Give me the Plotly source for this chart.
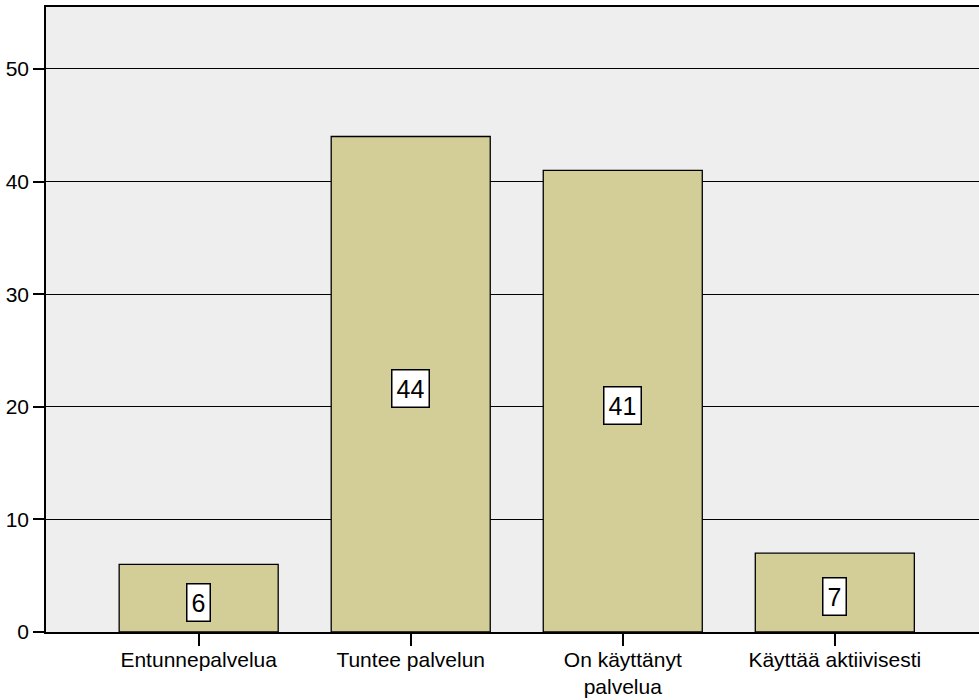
import plotly.graph_objects as go

categories = ["Entunnepalvelua", "Tuntee palvelun", "On käyttänyt<br>palvelua", "Käyttää aktiivisesti"]
values = [6, 44, 41, 7]
y_ticks = [0, 10, 20, 30, 40, 50]

fig = go.Figure()
fig.add_trace(go.Bar(
    x=list(range(len(categories))), y=values, width=0.75,
    marker=dict(color="#D3CE98", line=dict(color="#000000", width=1.3)),
    hoverinfo="skip",
))

for i, v in enumerate(values):
    fig.add_annotation(
        x=i, y=v / 2, text=str(v), showarrow=False, yshift=-4,
        font=dict(family="Liberation Sans, Arial", size=25, color="black"),
        bgcolor="white", bordercolor="black", borderwidth=1.5, borderpad=4,
    )

fig.update_layout(
    width=979, height=700,
    margin=dict(l=46, r=0, t=7, b=68),
    paper_bgcolor="white", plot_bgcolor="#EEEEEE",
    showlegend=False,
    font=dict(family="Liberation Sans, Arial", size=22, color="black"),
    bargap=0.25,
)
fig.update_xaxes(
    range=[-0.72, 3.68], automargin=False,
    tickmode="array", tickvals=list(range(len(categories))), ticktext=categories,
    ticks="outside", ticklen=12, tickwidth=1.5, tickcolor="black",
    ticklabelstandoff=-4,
    showline=True, linecolor="black", linewidth=1.5, mirror=True,
    showgrid=False, zeroline=False,
    tickfont=dict(size=21),
)
fig.update_yaxes(
    range=[0, 55.5], automargin=False,
    tickmode="array", tickvals=y_ticks,
    ticks="outside", ticklen=11, tickwidth=1.5, tickcolor="black",
    showline=True, linecolor="black", linewidth=1.5,
    showgrid=True, gridcolor="black", gridwidth=1.3,
    zeroline=False,
    tickfont=dict(size=21),
)

fig.write_html("out.html")
